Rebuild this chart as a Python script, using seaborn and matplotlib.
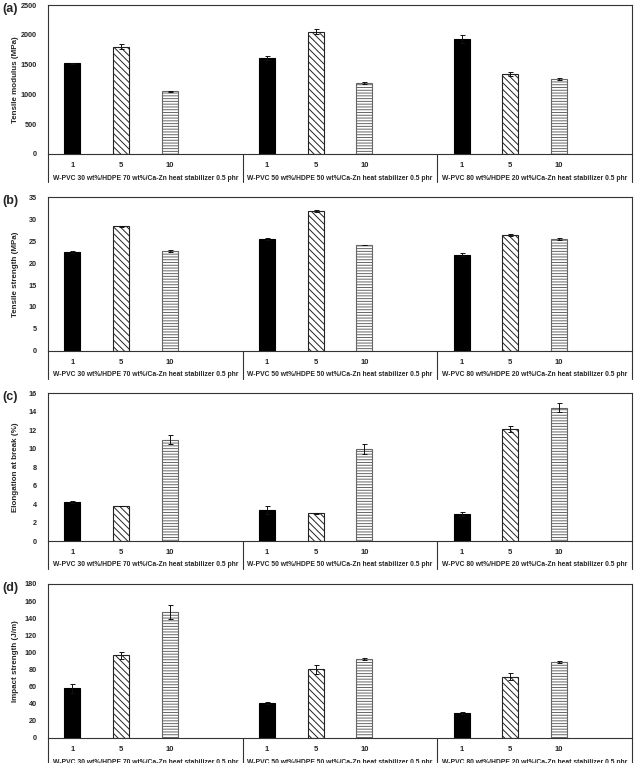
import matplotlib
matplotlib.use("Agg")
import matplotlib.pyplot as plt
import seaborn as sns
import pandas as pd

sns.set_theme(style="white")
plt.rcParams['font.family'] = ['Liberation Sans', 'DejaVu Sans']
plt.rcParams['hatch.linewidth'] = 0.7

groups = ["W-PVC 30 wt%/HDPE 70 wt%/Ca-Zn heat stabilizer 0.5 phr",
          "W-PVC 50 wt%/HDPE 50 wt%/Ca-Zn heat stabilizer 0.5 phr",
          "W-PVC 80 wt%/HDPE 20 wt%/Ca-Zn heat stabilizer 0.5 phr"]
levels = ["1", "5", "10"]

modulus = [1520, 1800, 1050, 1610, 2050, 1190, 1930, 1345, 1260]
modulus_err = [10, 40, 10, 40, 40, 15, 60, 30, 10]
strength = [22.5, 28.3, 22.7, 25.4, 31.9, 24.1, 21.9, 26.4, 25.4]
strength_err = [0.2, 0.2, 0.2, 0.2, 0.2, 0.1, 0.3, 0.3, 0.2]
elongation = [4.25, 3.78, 10.95, 3.35, 2.98, 9.95, 2.95, 12.1, 14.4]
elongation_err = [0.1, 0.05, 0.5, 0.4, 0.05, 0.5, 0.2, 0.3, 0.5]
impact = [58, 96.6, 147.5, 41.3, 80.3, 92.5, 28.9, 71.6, 89.2]
impact_err = [5, 4, 8, 1, 5, 1, 1, 4, 1]

panels = [
    ("(a)", "Tensile modulus (MPa)", modulus, modulus_err, 2500, 500, 5, 154),
    ("(b)", "Tensile strength (MPa)", strength, strength_err, 35, 5, 197, 351),
    ("(c)", "Elongation at break (%)", elongation, elongation_err, 16, 2, 393, 541),
    ("(d)", "Impact strength (J/m)", impact, impact_err, 180, 20, 584, 738),
]

W, H = 635, 763
fig = plt.figure(figsize=(W / 100, H / 100), dpi=100)

order = []
for gi in range(3):
    for lev in levels:
        order.append(f"{gi}|{lev}")
    order.append(f"{gi}|")
ticklabels = [o.split("|")[1] for o in order]

x0, x1 = 48, 632
for letter, ylabel, vals, errs, ymax, ystep, top, bot in panels:
    ax = fig.add_axes([x0 / W, 1 - bot / H, (x1 - x0) / W, (bot - top) / H])
    slots = [f"{gi}|{lev}" for gi in range(3) for lev in levels]
    df = pd.DataFrame({"slot": slots, "value": vals})
    sns.barplot(data=df, x="slot", y="value", order=order, width=0.33,
                errorbar=None, color="black", ax=ax, linewidth=0.8)
    for i, p in enumerate(ax.patches):
        k = i % 3
        if k == 0:
            p.set_facecolor("black"); p.set_edgecolor("black")
        elif k == 1:
            p.set_facecolor("white"); p.set_edgecolor("#222222")
            p.set_hatch("\\\\\\\\\\")
        else:
            p.set_facecolor("white"); p.set_edgecolor("#666666")
            p.set_hatch("------")
    xs = [p.get_x() + p.get_width() / 2 for p in ax.patches]
    ax.errorbar(xs, vals, yerr=errs, fmt="none", ecolor="#111111",
                elinewidth=0.7, capsize=1.8, capthick=0.7)
    ax.set_xlim(-0.5, 11.5)
    ax.set_ylim(0, ymax)
    ax.set_yticks(range(0, ymax + 1, ystep))
    ax.tick_params(axis="y", length=0, pad=8, labelsize=5.2)
    ax.set_xticks(range(12))
    ax.set_xticklabels(ticklabels, fontsize=5.5, fontweight="bold")
    ax.tick_params(axis="x", length=0, pad=6)
    for lbl in ax.get_yticklabels():
        lbl.set_fontweight("bold")
    ax.set_xlabel("")
    ax.set_ylabel(ylabel, fontsize=5.8, fontweight="bold")
    ax.yaxis.set_label_coords(-29 / (x1 - x0), 0.5)
    for s in ax.spines.values():
        s.set_color("#333333"); s.set_linewidth(0.8)
    hpx = bot - top
    ext = -28 / hpx
    for xv in [-0.5, 3.5, 7.5, 11.5]:
        ax.plot([xv, xv], [0, ext], color="#333333", lw=0.8,
                transform=ax.get_xaxis_transform(), clip_on=False)
    for gi, g in enumerate(groups):
        ax.text(1.5 + 4 * gi, -24 / hpx, g, transform=ax.get_xaxis_transform(),
                ha="center", va="center", fontsize=4.9, fontweight="bold")
    fig.text(2 / W, 1 - (top + 4) / H, letter, fontsize=9, fontweight="bold",
             ha="left", va="center")

fig.savefig("out.png", dpi=100)
